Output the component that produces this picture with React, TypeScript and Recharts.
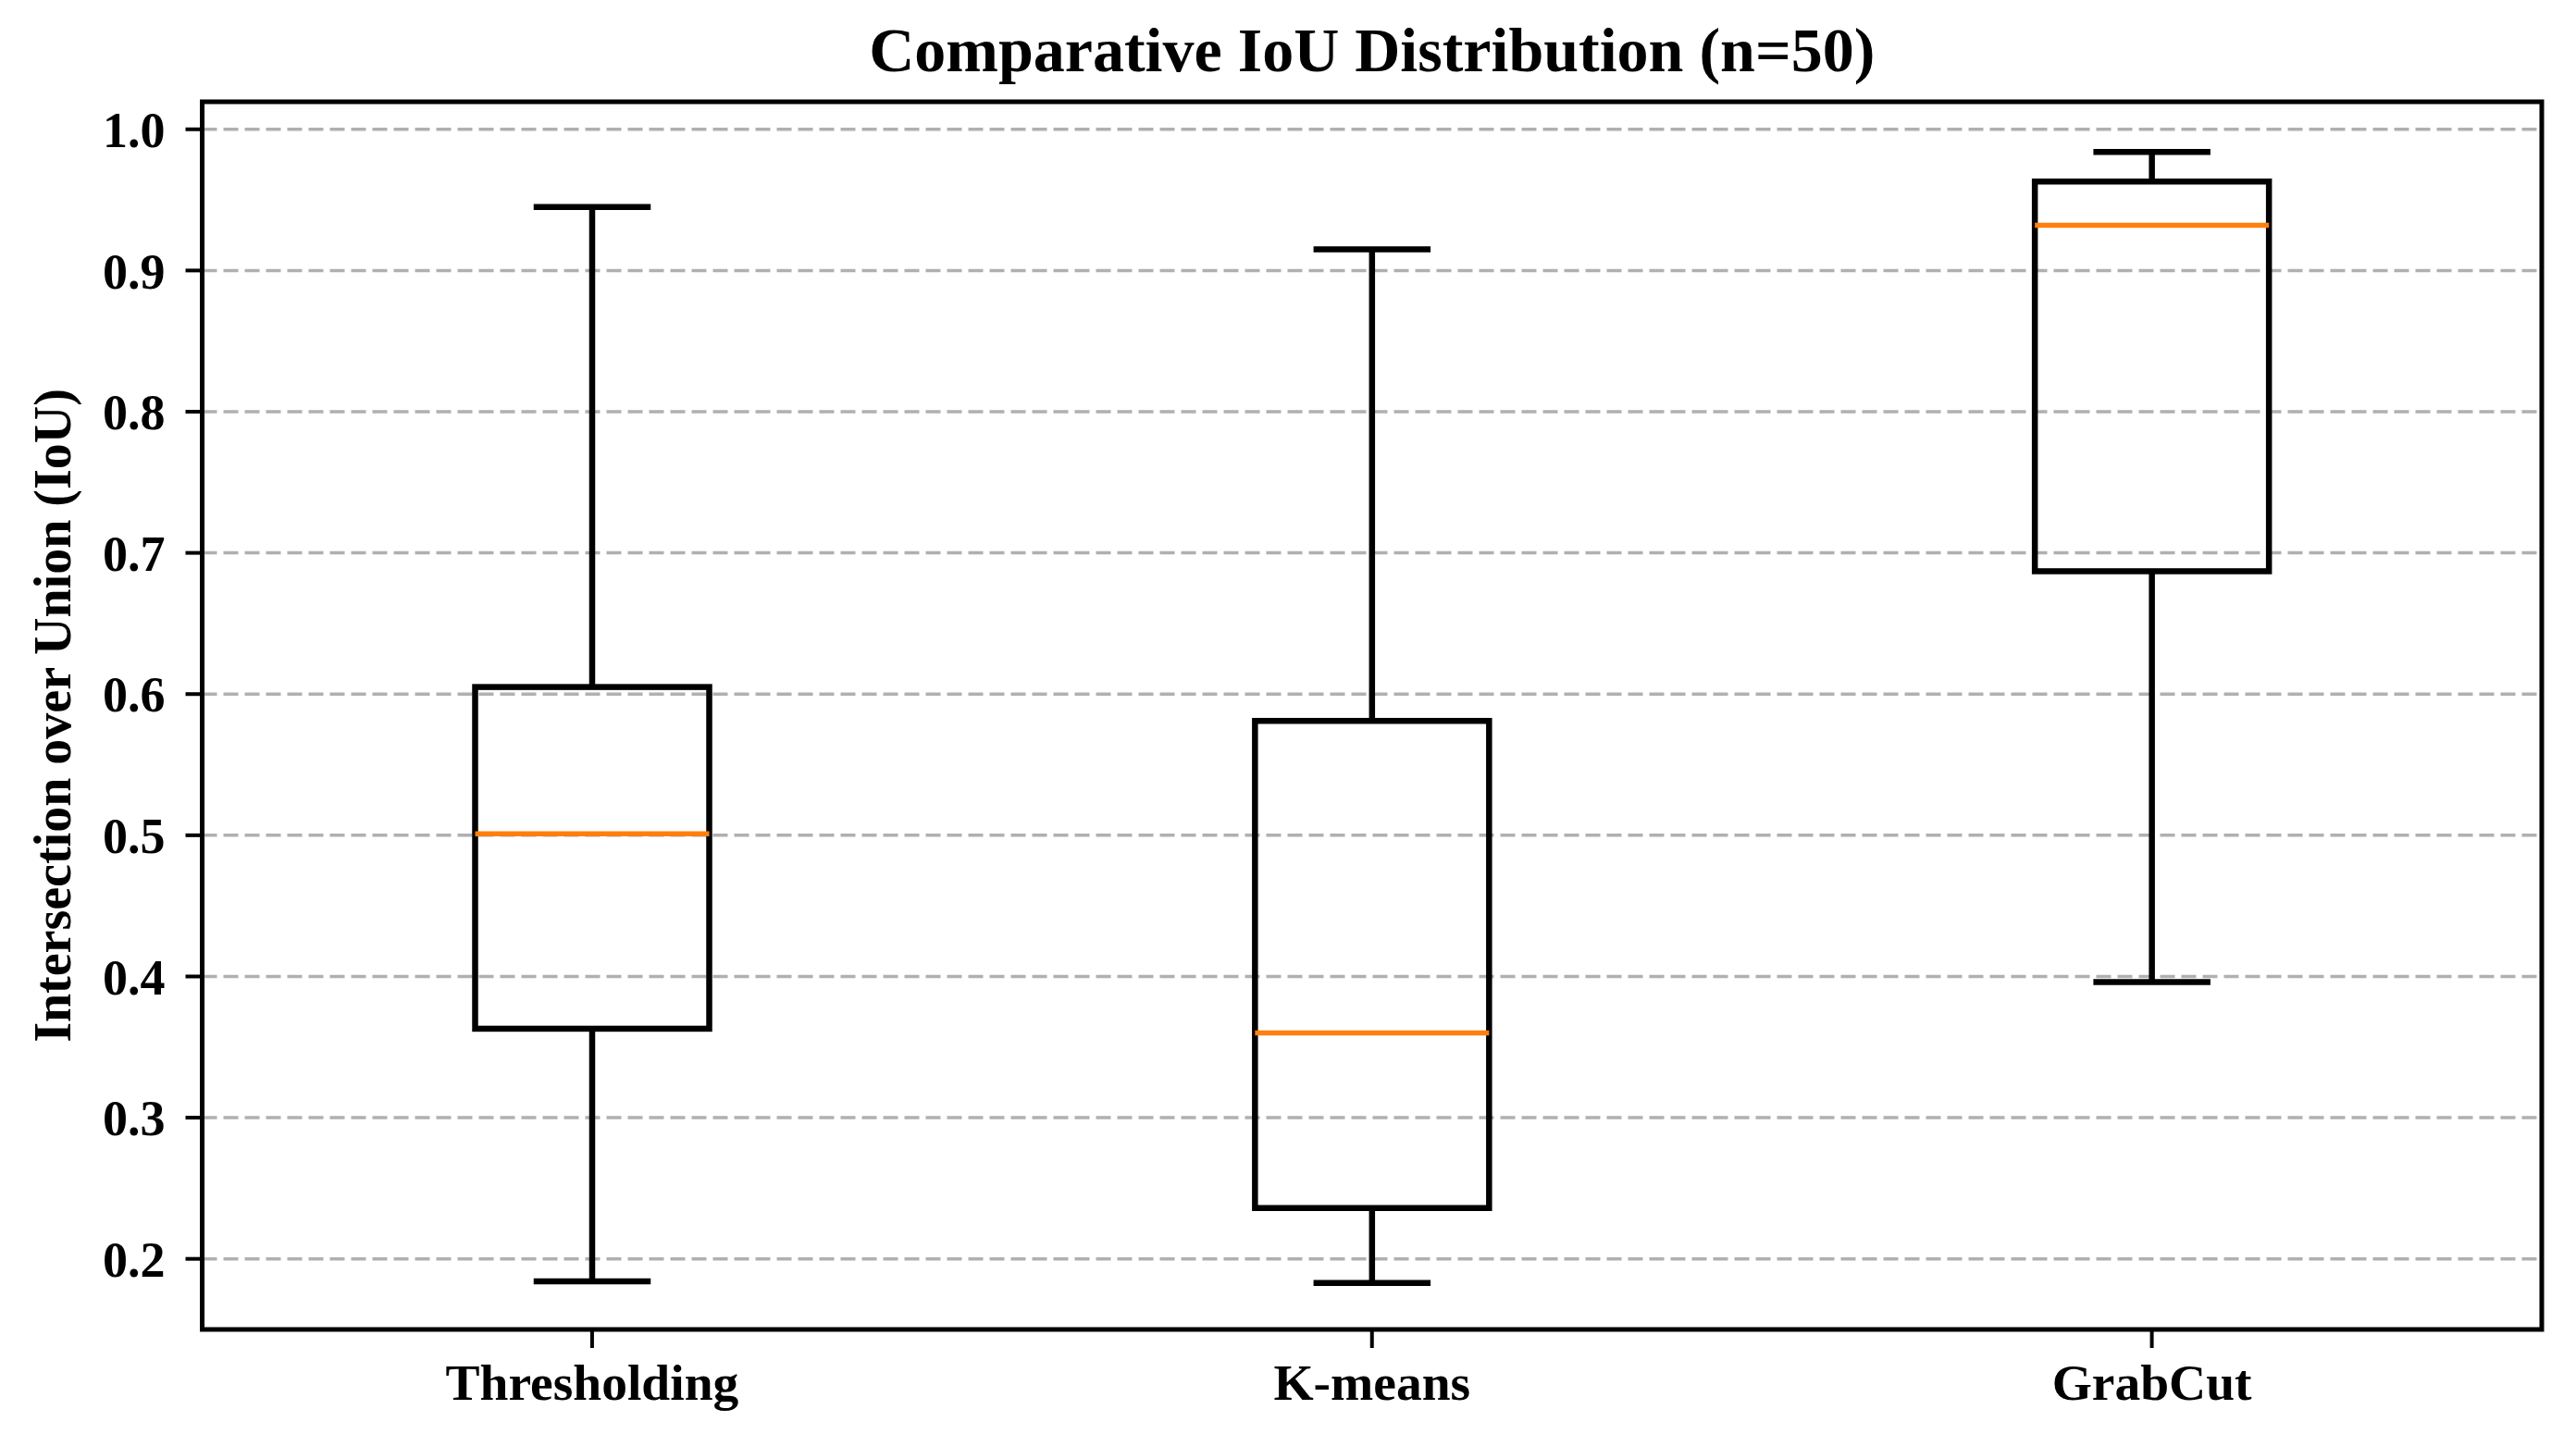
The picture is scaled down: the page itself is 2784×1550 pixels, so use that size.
import React from "react";
import {
  ComposedChart,
  Bar,
  XAxis,
  YAxis,
  CartesianGrid,
  ReferenceArea,
} from "recharts";

// Five-number summaries (IoU, n=50)
const CATEGORIES = ["Thresholding", "K-means", "GrabCut"];
const WHISKER_LOW = [0.184, 0.183, 0.396];
const Q1 = [0.363, 0.236, 0.687];
const MEDIAN = [0.501, 0.36, 0.932];
const Q3 = [0.605, 0.581, 0.963];
const WHISKER_HIGH = [0.945, 0.915, 0.984];
const Y_TICKS = [0.2, 0.3, 0.4, 0.5, 0.6, 0.7, 0.8, 0.9, 1.0];
const Y_DOMAIN = [0.15, 1.0195];

const TITLE = "Comparative IoU Distribution (n=50)";
const Y_LABEL = "Intersection over Union (IoU)";

const FONT = "'Liberation Serif', 'Times New Roman', serif";
const MEDIAN_COLOR = "#ff7f0e";
const GRID_COLOR = "#b0b0b0";

const data = CATEGORIES.map((name, i) => ({
  name,
  range: [WHISKER_LOW[i], WHISKER_HIGH[i]],
  low: WHISKER_LOW[i],
  q1: Q1[i],
  median: MEDIAN[i],
  q3: Q3[i],
  high: WHISKER_HIGH[i],
}));

// Draws a matplotlib-style box: whiskers + caps, open box, orange median.
// The bar's own pixel span (low..high) is used to place the inner values.
function BoxShape(props: any) {
  const { x, y, width, height, payload } = props;
  if (x == null || y == null || !payload) return null;
  const top = Math.min(y, y + height);
  const bottom = Math.max(y, y + height);
  const { low, q1, median, q3, high } = payload;
  const toY = (v: number) => bottom - ((bottom - top) * (v - low)) / (high - low);
  const cx = x + width / 2;
  const cap = width / 4;
  const sw = 6.5;
  return (
    <g>
      <line x1={cx} x2={cx} y1={toY(high)} y2={toY(q3)} stroke="#000" strokeWidth={sw} />
      <line x1={cx} x2={cx} y1={toY(q1)} y2={toY(low)} stroke="#000" strokeWidth={sw} />
      <line x1={cx - cap} x2={cx + cap} y1={toY(high)} y2={toY(high)} stroke="#000" strokeWidth={sw} />
      <line x1={cx - cap} x2={cx + cap} y1={toY(low)} y2={toY(low)} stroke="#000" strokeWidth={sw} />
      <rect
        x={x}
        y={toY(q3)}
        width={width}
        height={toY(q1) - toY(q3)}
        fill="none"
        stroke="#000"
        strokeWidth={sw}
      />
      <line x1={x} x2={x + width} y1={toY(median)} y2={toY(median)} stroke={MEDIAN_COLOR} strokeWidth={5.5} />
    </g>
  );
}

// Title is hung off the x axis label so it can centre on the plot area
function TitleLabel(props: any) {
  const vb = props.viewBox || {};
  const cx = (vb.x ?? 218) + (vb.width ?? 2529) / 2;
  return (
    <text x={cx} y={77} textAnchor="middle" fontFamily={FONT} fontWeight="bold" fontSize={68} fill="#000">
      {TITLE}
    </text>
  );
}

function YLabel(props: any) {
  const vb = props.viewBox || {};
  const cy = (vb.y ?? 110) + (vb.height ?? 1327) / 2;
  const lx = 57;
  return (
    <text
      x={lx}
      y={cy}
      transform={`rotate(-90, ${lx}, ${cy})`}
      textAnchor="middle"
      dominantBaseline="central"
      fontFamily={FONT}
      fontWeight="bold"
      fontSize={56}
      fill="#000"
    >
      {Y_LABEL}
    </text>
  );
}

const yTickStyle = { fill: "#000", fontSize: 54, fontFamily: FONT, fontWeight: "bold" as const };
const xTickStyle = { fill: "#000", fontSize: 55.5, fontFamily: FONT, fontWeight: "bold" as const };

export default function App() {
  return (
    <div style={{ position: "absolute", left: 0, top: 0, width: 2784, height: 1550, background: "#fff" }}>
      <ComposedChart
        width={2784}
        height={1550}
        data={data}
        margin={{ top: 110, right: 37, bottom: 0, left: 0 }}
        barCategoryGap="35%"
      >
        <CartesianGrid
          horizontal
          vertical={false}
          stroke={GRID_COLOR}
          strokeWidth={3.5}
          strokeDasharray="16 7"
        />
        <XAxis
          dataKey="name"
          height={113}
          tick={xTickStyle}
          tickSize={20}
          tickMargin={17}
          tickLine={{ stroke: "#000", strokeWidth: 4 }}
          axisLine={false}
          label={<TitleLabel />}
        />
        <YAxis
          type="number"
          domain={Y_DOMAIN}
          ticks={Y_TICKS}
          allowDataOverflow
          width={218.5}
          tick={yTickStyle}
          tickFormatter={(v: number) => v.toFixed(1)}
          tickSize={18}
          tickMargin={22}
          tickLine={{ stroke: "#000", strokeWidth: 4 }}
          axisLine={false}
          label={<YLabel />}
        />
        <Bar dataKey="range" shape={<BoxShape />} isAnimationActive={false} />
        {/* full frame round the plot (matplotlib spines) */}
        <ReferenceArea
          y1={Y_DOMAIN[0]}
          y2={Y_DOMAIN[1]}
          ifOverflow="visible"
          fill="none"
          fillOpacity={0}
          stroke="#000"
          strokeWidth={5}
        />
      </ComposedChart>
    </div>
  );
}
